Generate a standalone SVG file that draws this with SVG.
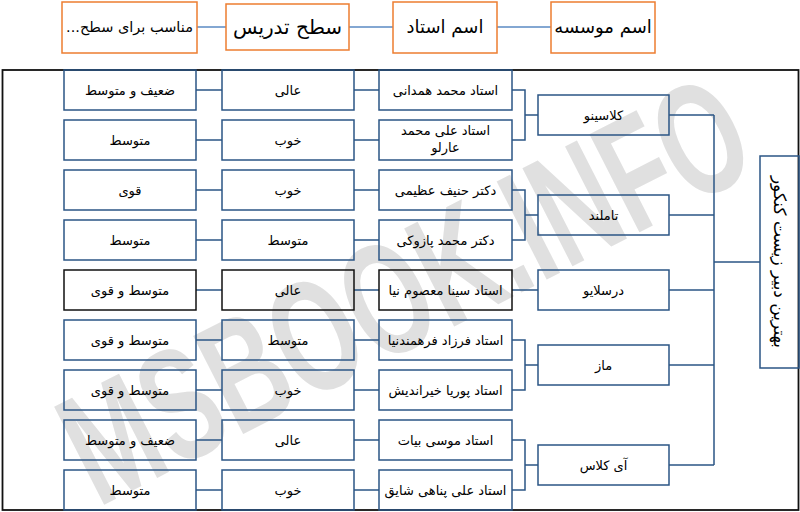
<svg xmlns="http://www.w3.org/2000/svg" width="800" height="512" viewBox="0 0 800 512">
<style>
text{font-family:"DejaVu Sans","Noto Sans",sans-serif;fill:#000;text-anchor:middle;direction:rtl;unicode-bidi:embed}
.h{fill:#fff;stroke:#ED7D31;stroke-width:1.5}
.b{fill:none;stroke:#2B5585;stroke-width:1.5}
.k{fill:none;stroke:#111;stroke-width:1.5}
.c{fill:none;stroke:#2B5585;stroke-width:1.5}
.hc{fill:none;stroke:#5B8BC4;stroke-width:1.5}
.t{font-size:13px}
.wm{font-family:"Liberation Sans",sans-serif;font-weight:bold;fill:#e0e0e0;direction:ltr}
</style>
<rect x="0" y="0" width="800" height="512" fill="#fff"/>
<g id="watermark">
<text class="wm" x="405" y="345" font-size="160" textLength="745" lengthAdjust="spacingAndGlyphs" transform="rotate(-27 405 290)">MSBOOK.INFO</text>
</g>
<rect id="frame" x="2.5" y="70" width="796" height="440" fill="none" stroke="#111" stroke-width="1.8"/>
<g id="connectors">
<path class="hc" d="M197 27H226M349 27H393M497 27H551"/>
<path class="c" d="M196 90H222M354 90H379M196 140H222M354 140H379M196 190H222M354 190H379M196 240H222M354 240H379M196 290H222M354 290H379M196 340H222M354 340H379M196 390H222M354 390H379M196 440H222M354 440H379M196 490H222M354 490H379"/>
<path class="c" d="M512 90H525V140H512M525 115H538M512 190H525V240H512M525 215H538M512 290H538M512 340H525V390H512M525 365H538M512 440H525V490H512M525 465H538"/>
<path class="c" d="M669 115H714M669 215H714M669 290H714M669 365H714M669 465H714M714 115V465M714 262H760"/>
</g>
<g id="header">
<g id="h-institute"><rect class="h" x="551" y="2" width="104" height="51"/><text x="603" y="33" font-size="18">اسم موسسه</text></g>
<g id="h-teacher"><rect class="h" x="393" y="2" width="104" height="51"/><text x="445" y="33" font-size="18">اسم استاد</text></g>
<g id="h-level"><rect class="h" x="226" y="4" width="123" height="46"/><text x="287.5" y="34" font-size="20">سطح تدریس</text></g>
<g id="h-suit"><rect class="h" x="62" y="2" width="135" height="51"/><text x="129.5" y="32" font-size="14.5">مناسب برای سطح...</text></g>
</g>
<g id="title"><rect class="b" x="760" y="156" width="39" height="212"/><text x="0" y="0" font-size="17" transform="translate(774 262) rotate(90)">بهترین دبیر زیست کنکور</text></g>
<g id="institutes">
<g id="i1"><rect class="b" x="538" y="95" width="131" height="40"/><text class="t" x="603.5" y="120">کلاسینو</text></g>
<g id="i2"><rect class="b" x="538" y="195" width="131" height="40"/><text class="t" x="603.5" y="220">تاملند</text></g>
<g id="i3"><rect class="b" x="538" y="270" width="131" height="40"/><text class="t" x="603.5" y="295">درسلایو</text></g>
<g id="i4"><rect class="b" x="538" y="345" width="131" height="40"/><text class="t" x="603.5" y="370">ماز</text></g>
<g id="i5"><rect class="b" x="538" y="445" width="131" height="40"/><text class="t" x="603.5" y="470">آی کلاس</text></g>
</g>
<g id="teachers">
<g id="t1"><rect class="b" x="379" y="70" width="133" height="40"/><text class="t" x="445.5" y="95">استاد محمد همدانی</text></g>
<g id="t2"><rect class="b" x="379" y="120" width="133" height="40"/><text class="t" x="445.5" y="135">استاد علی محمد</text><text class="t" x="445.5" y="152">عارلو</text></g>
<g id="t3"><rect class="b" x="379" y="170" width="133" height="40"/><text class="t" x="445.5" y="195">دکتر حنیف عظیمی</text></g>
<g id="t4"><rect class="b" x="379" y="220" width="133" height="40"/><text class="t" x="445.5" y="245">دکتر محمد پازوکی</text></g>
<g id="t5"><rect class="k" x="379" y="270" width="133" height="40"/><text class="t" x="445.5" y="295">استاد سینا معصوم نیا</text></g>
<g id="t6"><rect class="b" x="379" y="320" width="133" height="40"/><text class="t" x="445.5" y="345">استاد فرزاد فرهمندنیا</text></g>
<g id="t7"><rect class="b" x="379" y="370" width="133" height="40"/><text class="t" x="445.5" y="395">استاد پوریا خیراندیش</text></g>
<g id="t8"><rect class="b" x="379" y="420" width="133" height="40"/><text class="t" x="445.5" y="445">استاد موسی بیات</text></g>
<g id="t9"><rect class="b" x="379" y="470" width="133" height="40"/><text class="t" x="445.5" y="495">استاد علی پناهی شایق</text></g>
</g>
<g id="levels">
<g id="l1"><rect class="b" x="222" y="70" width="132" height="40"/><text class="t" x="288" y="95">عالی</text></g>
<g id="l2"><rect class="b" x="222" y="120" width="132" height="40"/><text class="t" x="288" y="145">خوب</text></g>
<g id="l3"><rect class="b" x="222" y="170" width="132" height="40"/><text class="t" x="288" y="195">خوب</text></g>
<g id="l4"><rect class="b" x="222" y="220" width="132" height="40"/><text class="t" x="288" y="245">متوسط</text></g>
<g id="l5"><rect class="k" x="222" y="270" width="132" height="40"/><text class="t" x="288" y="295">عالی</text></g>
<g id="l6"><rect class="b" x="222" y="320" width="132" height="40"/><text class="t" x="288" y="345">متوسط</text></g>
<g id="l7"><rect class="b" x="222" y="370" width="132" height="40"/><text class="t" x="288" y="395">خوب</text></g>
<g id="l8"><rect class="b" x="222" y="420" width="132" height="40"/><text class="t" x="288" y="445">عالی</text></g>
<g id="l9"><rect class="b" x="222" y="470" width="132" height="40"/><text class="t" x="288" y="495">خوب</text></g>
</g>
<g id="ratings">
<g id="r1"><rect class="b" x="64" y="70" width="132" height="40"/><text class="t" x="130" y="95">ضعیف و متوسط</text></g>
<g id="r2"><rect class="b" x="64" y="120" width="132" height="40"/><text class="t" x="130" y="145">متوسط</text></g>
<g id="r3"><rect class="b" x="64" y="170" width="132" height="40"/><text class="t" x="130" y="195">قوی</text></g>
<g id="r4"><rect class="b" x="64" y="220" width="132" height="40"/><text class="t" x="130" y="245">متوسط</text></g>
<g id="r5"><rect class="k" x="64" y="270" width="132" height="40"/><text class="t" x="130" y="295">متوسط و قوی</text></g>
<g id="r6"><rect class="b" x="64" y="320" width="132" height="40"/><text class="t" x="130" y="345">متوسط و قوی</text></g>
<g id="r7"><rect class="b" x="64" y="370" width="132" height="40"/><text class="t" x="130" y="395">متوسط و قوی</text></g>
<g id="r8"><rect class="b" x="64" y="420" width="132" height="40"/><text class="t" x="130" y="445">ضعیف و متوسط</text></g>
<g id="r9"><rect class="b" x="64" y="470" width="132" height="40"/><text class="t" x="130" y="495">متوسط</text></g>
</g>
</svg>
